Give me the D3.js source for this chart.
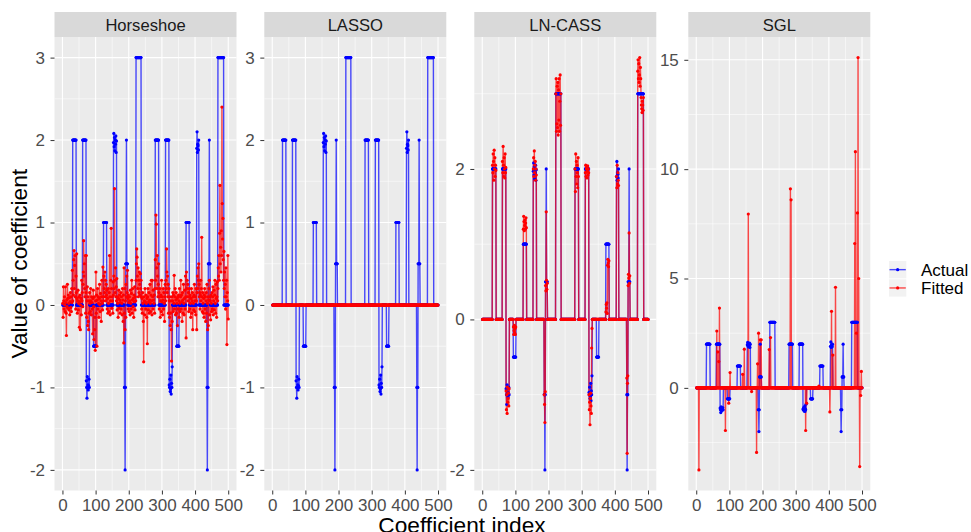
<!DOCTYPE html>
<html lang="en">
<head>
<meta charset="UTF-8">
<title>Actual vs fitted coefficients</title>
<style>
  body { margin: 0; background: #fff; }
  svg { font-family: "Liberation Sans", Arial, sans-serif; }
  .axis text { fill: #4D4D4D; font-size: 17px; font-family: "Liberation Sans", Arial, sans-serif; }
  .axis line { stroke: #333333; stroke-width: 1; }
  .axis path { display: none; }
</style>
</head>
<body>
<svg id="chart" width="971" height="532"></svg>
<script src="https://d3js.org/d3.v7.min.js"></script>
<script>
var methods = ["Horseshoe", "LASSO", "LN-CASS", "SGL"];
var nCoef = 500;
var xTicks = [0, 100, 200, 300, 400, 500];
var yTicks = [[-2, -1, 0, 1, 2, 3], [-2, -1, 0, 1, 2, 3], [-2, 0, 2], [0, 5, 10, 15]];

// true coefficients: [first index, values], zero elsewhere
var actualGroups = [
  [31, [2,2,2,2,2,2,2,2,2,2,2]],
  [61, [2,2,2,2,2,2,2,2,2,2,2]],
  [72, [-0.92,-1.0,-1.13,-0.87,-1.0,-0.97,-1.03,-0.98,-0.9,-1.0]],
  [94, [-0.5,-0.5,-0.5,-0.5,-0.5,-0.5,-0.5,-0.5]],
  [124, [1,1,1,1,1,1,1,1,1,1]],
  [154, [1.97,2.08,1.92,2.03,1.87,2.0,1.95,2.05,1.85,1.99]],
  [187, [-1,-1,-2,-1,0.5,0.5,2,0.5,0.5,0.5]],
  [222, [3,3,3,3,3,3,3,3,3,3,3,3,3,3,3,3]],
  [280, [2,2,2,2,2,2,2,2,2,2,2]],
  [311, [2,2,2,2,2,2,2,2,2,2,2]],
  [322, [-0.97,-1.0,-0.9,-1.05,-1.02,-0.85,-1.08,-0.95,-1.0,-0.75]],
  [345, [-0.5,-0.5,-0.5,-0.5,-0.5,-0.5,-0.5]],
  [373, [1,1,1,1,1,1,1,1,1,1]],
  [405, [1.9,2.1,1.85,1.95,1.93,1.88,2.0]],
  [436, [-1,-2,-1,-1,0.5,0.5,0.5,2,0.5,0.5]],
  [469, [3,3,3,3,3,3,3,3,3,3,3,3,3,3,3,3,3,3]]
];

// Horseshoe estimates, index 1..500
var horseshoeFitted = [
  0.02,-0.15,0.22,0.05,-0.05,0.1,0.0,-0.08,0.22,0.03,-0.1,-0.37,0.06,-0.02,0.25,0.08,-0.04,0.12,0.02,-0.06,0.09,-0.12,0.04,0.15,-0.03,
  0.1,-0.08,0.2,0.03,0.42,0.05,0.3,0.12,0.55,0.66,0.2,0.48,0.6,0.1,-0.05,0.35,0.15,0.62,0.08,-0.1,0.05,0.18,-0.06,0.02,0.1,
  -0.27,0.04,0.12,-0.3,0.0,0.08,-0.12,0.3,0.05,0.15,-0.02,0.25,0.4,0.78,0.35,0.5,0.2,0.1,0.6,-0.1,0.15,0.6,-0.15,0.05,0.22,
  -0.25,0.1,-0.2,-0.3,0.05,-0.1,0.15,0.02,-0.08,0.2,0.05,-0.12,0.1,0.03,-0.05,-0.35,0.08,0.18,-0.02,-0.42,0.1,-0.3,-0.15,-0.55,0.05,
  0.4,-0.1,0.12,-0.5,0.06,0.2,-0.05,0.1,0.02,-0.15,0.08,0.25,0.0,-0.08,0.14,0.05,-0.2,0.1,0.3,0.02,-0.06,0.46,0.1,0.05,0.35,
  0.2,0.15,0.4,0.1,0.3,0.05,0.25,0.12,0.18,-0.05,0.08,-0.1,0.2,0.02,-0.08,0.15,0.6,0.1,-0.12,0.05,0.3,0.93,0.2,-0.04,0.1,
  0.05,-0.1,0.28,0.12,0.35,0.2,1.41,0.3,0.15,0.45,0.1,0.22,0.05,0.32,-0.06,0.1,0.02,-0.15,0.08,0.18,-0.04,0.12,0.06,-0.1,0.03,
  0.15,-0.05,0.1,0.02,-0.12,0.2,0.06,-0.2,0.12,-0.46,0.45,-0.1,0.2,-0.3,0.05,-0.15,0.25,0.1,0.35,0.15,0.42,0.08,-0.05,0.12,0.03,
  -0.08,0.1,0.05,-0.12,0.18,0.02,-0.05,0.14,0.3,-0.1,0.06,0.2,-0.02,0.08,-0.15,0.12,0.04,0.22,-0.06,0.1,0.05,0.3,0.5,0.68,0.58,
  0.35,0.2,0.45,0.1,0.3,0.15,0.4,0.25,0.12,0.38,0.2,0.3,0.1,-0.05,0.08,-0.1,0.15,0.02,-0.2,-0.69,0.1,0.05,-0.12,0.2,0.04,
  -0.05,0.12,0.02,-0.15,0.08,-0.47,0.1,0.2,-0.06,0.04,0.15,-0.1,0.06,0.25,0.02,-0.08,0.12,0.3,0.05,-0.12,0.3,0.1,-0.05,0.18,0.06,
  0.02,0.12,-0.1,0.2,0.55,0.3,1.09,0.98,0.45,0.2,0.6,0.35,0.1,0.25,0.5,0.15,-0.05,0.1,0.2,-0.15,0.05,0.12,-0.08,0.3,0.04,
  0.1,-0.12,0.06,0.2,-0.05,0.15,0.02,-0.2,0.1,0.25,0.05,0.3,0.2,0.68,0.4,0.15,0.35,0.1,0.25,-0.1,0.2,0.05,-0.15,0.1,-0.25,
  -0.1,0.05,-0.3,-0.68,0.1,-0.2,0.05,0.15,-0.08,0.12,0.02,0.36,-0.05,0.1,0.2,-0.12,0.06,0.15,-0.1,0.02,0.08,-0.25,0.1,-0.05,0.12,
  0.05,-0.15,0.2,0.02,-0.08,0.1,0.3,-0.05,0.12,0.04,-0.2,0.15,0.06,-0.1,0.25,0.02,-0.12,0.08,0.18,-0.05,0.35,0.1,-0.4,0.4,0.2,
  0.3,0.1,0.25,0.05,0.15,-0.08,0.2,0.1,-0.05,0.12,0.02,-0.15,0.08,0.2,-0.1,0.05,0.15,-0.3,0.1,0.02,-0.06,0.12,0.25,-0.08,0.05,
  0.1,-0.12,0.2,0.05,-0.3,0.15,0.35,0.2,0.45,0.3,0.5,0.25,0.1,0.15,-0.05,0.12,0.3,0.05,0.2,0.82,0.1,-0.08,0.15,0.02,-0.1,
  0.08,-0.15,0.12,0.2,-0.05,0.1,-0.2,0.05,0.15,-0.1,0.25,0.02,-0.3,0.1,-0.25,0.06,0.2,0.3,-0.12,0.1,0.05,-0.18,0.12,0.02,-0.08,
  0.15,-0.05,0.1,0.22,-0.12,0.05,0.18,-0.06,0.12,0.3,0.02,-0.1,0.25,0.08,-0.15,0.1,0.28,0.05,0.2,0.45,0.35,0.6,0.3,0.87,1.45,
  0.5,0.7,0.4,0.9,0.6,2.4,1.23,0.8,1.05,0.55,0.3,0.65,0.2,0.4,0.1,0.25,-0.05,0.45,0.1,0.3,-0.48,0.15,0.05,0.6,-0.17
];

// LASSO estimates: all zero
var lassoNonzero = [];

// LN-CASS estimates: [first index, values], zero elsewhere
var lncassGroups = [
  [31, [2.05,1.95,2.2,2.1,1.85,2.25,2.0,2.15,1.9,2.05,1.98]],
  [61, [2.1,1.95,2.3,2.05,1.9,2.15,2.0,1.88,2.2,1.95,2.02]],
  [72, [-0.95,-1.2,-1.0,-1.25,-0.9,-1.1,-1.05,-0.98,-1.15,-0.92]],
  [94, [-0.1,-0.2,-0.15,-0.08,-0.18,-0.12,-0.2,-0.1]],
  [124, [1.2,1.37,1.3,1.18,1.25,1.32,1.2,1.28,1.35,1.22]],
  [154, [2.0,2.15,1.9,2.24,1.95,2.05,2.1,1.85,2.0,1.92]],
  [187, [-1.0,-1.13,-1.37,-0.96,0.45,0.38,1.43,0.52,0.4,0.48]],
  [222, [3.0,3.2,2.5,2.6,3.1,2.55,3.15,2.45,3.05,2.65,3.2,2.5,2.9,3.25,2.58,3.0]],
  [280, [2.0,1.7,2.2,1.9,2.1,1.8,2.05,1.95,1.75,2.15,1.9]],
  [311, [1.95,2.05,1.9,2.0,2.02,1.88,1.97,2.04,1.92,2.0,1.95]],
  [322, [-1.0,-1.2,-1.1,-1.4,-1.05,-0.98,-1.15,-1.25,-0.38,-0.12]],
  [373, [0.1,0.2,0.15,0.22,0.08,0.72,0.8,0.75,0.7,0.78]],
  [405, [1.9,1.75,2.05,1.8,1.95,1.85,1.78]],
  [436, [-0.78,-1.78,-0.85,-0.75,0.45,0.6,0.55,1.15,0.48,0.58]],
  [469, [3.3,3.45,3.2,3.4,3.15,3.25,3.48,3.1,3.35,3.2,2.95,2.85,2.8,2.75,2.9,2.85,2.78,2.95]]
];

// SGL estimates: [index, value], zero elsewhere
var sglNonzero = [
  [8,-3.75],[62,2.6],[65,1.65],[68,1.2],[70,3.65],[88,-1.95],[98,-0.7],[102,0.7],
  [140,0.62],[145,1.77],[157,7.95],[167,-0.17],[182,-2.95],[185,1.1],[188,2.5],[193,2.2],
  [196,2.2],[220,1.75],[224,2.3],[284,9.1],[286,8.6],[330,-1.95],[333,-0.7],[370,0.08],
  [403,-1.1],[408,3.5],[412,1.5],[420,4.6],[478,6.6],[480,10.8],[483,2.5],[486,8.0],
  [488,15.1],[490,5.0],[493,-3.6],[496,-0.35],[498,0.75]
];

function fromGroups(groups) {
  var v = new Array(nCoef).fill(0);
  groups.forEach(function(g) {
    g[1].forEach(function(val, k) { v[g[0] - 1 + k] = val; });
  });
  return v;
}
function fromPairs(pairs) {
  var v = new Array(nCoef).fill(0);
  pairs.forEach(function(p) { v[p[0] - 1] = p[1]; });
  return v;
}

var actual = fromGroups(actualGroups);
var fittedByMethod = [horseshoeFitted, fromPairs(lassoNonzero), fromGroups(lncassGroups), fromPairs(sglNonzero)];

var svg = d3.select("#chart");
var panelLeft = [54.5, 264.3, 474.3, 688.3];
var panelW = 182;
var panelTop = 37, panelBottom = 490.5, stripTop = 12;
var actualColor = "#0000FF", fittedColor = "#FF0000";
var lineW = 1.4, lineAlpha = 0.7, pointR = 1.6;

methods.forEach(function(name, p) {
  var fitted = fittedByMethod[p];
  var rows = actual.map(function(a, k) { return { i: k + 1, actual: a, fitted: fitted[k] }; });

  var x0 = panelLeft[p], x1 = x0 + panelW;
  var xPad = (nCoef - 1) * 0.05;
  var x = d3.scaleLinear().domain([1 - xPad, nCoef + xPad]).range([x0, x1]);

  var ext = d3.extent(actual.concat(fitted));
  var yPad = (ext[1] - ext[0]) * 0.05;
  var y = d3.scaleLinear().domain([ext[0] - yPad, ext[1] + yPad]).range([panelBottom, panelTop]);

  var g = svg.append("g");

  g.append("rect").attr("x", x0).attr("y", panelTop)
    .attr("width", panelW).attr("height", panelBottom - panelTop)
    .attr("fill", "#EBEBEB");

  // minor grid
  var ticks = yTicks[p];
  var step = ticks[1] - ticks[0];
  var yMinor = [ticks[0] - step / 2].concat(ticks.map(function(t) { return t + step / 2; }))
    .filter(function(v) { return v > y.domain()[0] && v < y.domain()[1]; });
  var xMinor = xTicks.slice(0, -1).map(function(t) { return t + 50; });
  g.selectAll(".ymin").data(yMinor).enter().append("line")
    .attr("x1", x0).attr("x2", x1)
    .attr("y1", function(d) { return y(d); }).attr("y2", function(d) { return y(d); })
    .attr("stroke", "#fff").attr("stroke-width", 0.55);
  g.selectAll(".xmin").data(xMinor).enter().append("line")
    .attr("y1", panelTop).attr("y2", panelBottom)
    .attr("x1", function(d) { return x(d); }).attr("x2", function(d) { return x(d); })
    .attr("stroke", "#fff").attr("stroke-width", 0.55);
  // major grid
  g.selectAll(".ymaj").data(ticks).enter().append("line")
    .attr("x1", x0).attr("x2", x1)
    .attr("y1", function(d) { return y(d); }).attr("y2", function(d) { return y(d); })
    .attr("stroke", "#fff").attr("stroke-width", 1.1);
  g.selectAll(".xmaj").data(xTicks).enter().append("line")
    .attr("y1", panelTop).attr("y2", panelBottom)
    .attr("x1", function(d) { return x(d); }).attr("x2", function(d) { return x(d); })
    .attr("stroke", "#fff").attr("stroke-width", 1.1);

  var lineA = d3.line().x(function(d) { return x(d.i); }).y(function(d) { return y(d.actual); });
  var lineF = d3.line().x(function(d) { return x(d.i); }).y(function(d) { return y(d.fitted); });

  g.append("path").datum(rows).attr("d", lineA)
    .attr("fill", "none").attr("stroke", actualColor).attr("stroke-width", lineW).attr("stroke-opacity", lineAlpha);
  g.append("path").datum(rows).attr("d", lineF)
    .attr("fill", "none").attr("stroke", fittedColor).attr("stroke-width", lineW).attr("stroke-opacity", lineAlpha);

  g.selectAll(".pa").data(rows).enter().append("circle")
    .attr("cx", function(d) { return x(d.i); }).attr("cy", function(d) { return y(d.actual); })
    .attr("r", pointR).attr("fill", actualColor);
  g.selectAll(".pf").data(rows).enter().append("circle")
    .attr("cx", function(d) { return x(d.i); }).attr("cy", function(d) { return y(d.fitted); })
    .attr("r", pointR).attr("fill", fittedColor);

  // strip
  g.append("rect").attr("x", x0).attr("y", stripTop)
    .attr("width", panelW).attr("height", panelTop - stripTop)
    .attr("fill", "#D9D9D9");
  g.append("text").attr("x", (x0 + x1) / 2).attr("y", (stripTop + panelTop) / 2 + 6)
    .attr("text-anchor", "middle").attr("fill", "#1A1A1A").style("font-size", "16.6px")
    .text(name);

  // axes
  g.append("g").attr("class", "axis")
    .attr("transform", "translate(" + x0 + ",0)")
    .call(d3.axisLeft(y).tickValues(ticks).tickSize(4).tickPadding(5.5).tickFormat(d3.format("d")));
  g.append("g").attr("class", "axis")
    .attr("transform", "translate(0," + panelBottom + ")")
    .call(d3.axisBottom(x).tickValues(xTicks).tickSize(4).tickPadding(4.5).tickFormat(d3.format("d")));
});

svg.selectAll(".axis text").text(function() { return this.textContent.replace("\u2212", "-"); });

// axis titles
svg.append("text").attr("x", 462).attr("y", 532.5).attr("text-anchor", "middle")
  .attr("fill", "#000").style("font-size", "22.7px").text("Coefficient index");
svg.append("text").attr("transform", "translate(26.5," + ((panelTop + panelBottom) / 2) + ") rotate(-90)")
  .attr("text-anchor", "middle").attr("fill", "#000").style("font-size", "22.7px").text("Value of coefficient");

// legend
var legendItems = [["Actual", actualColor], ["Fitted", fittedColor]];
var lg = svg.append("g");
legendItems.forEach(function(it, k) {
  var ky = 261 + k * 18.3;
  lg.append("rect").attr("x", 889).attr("y", ky).attr("width", 17.3).attr("height", 17.3).attr("fill", "#F2F2F2");
  lg.append("line").attr("x1", 889.5).attr("x2", 905.8).attr("y1", ky + 8.65).attr("y2", ky + 8.65)
    .attr("stroke", it[1]).attr("stroke-width", lineW).attr("stroke-opacity", lineAlpha);
  lg.append("circle").attr("cx", 897.65).attr("cy", ky + 8.65).attr("r", pointR).attr("fill", it[1]);
  lg.append("text").attr("x", 921).attr("y", ky + 14.6).attr("fill", "#000").style("font-size", "17px").text(it[0]);
});
</script>
</body>
</html>
